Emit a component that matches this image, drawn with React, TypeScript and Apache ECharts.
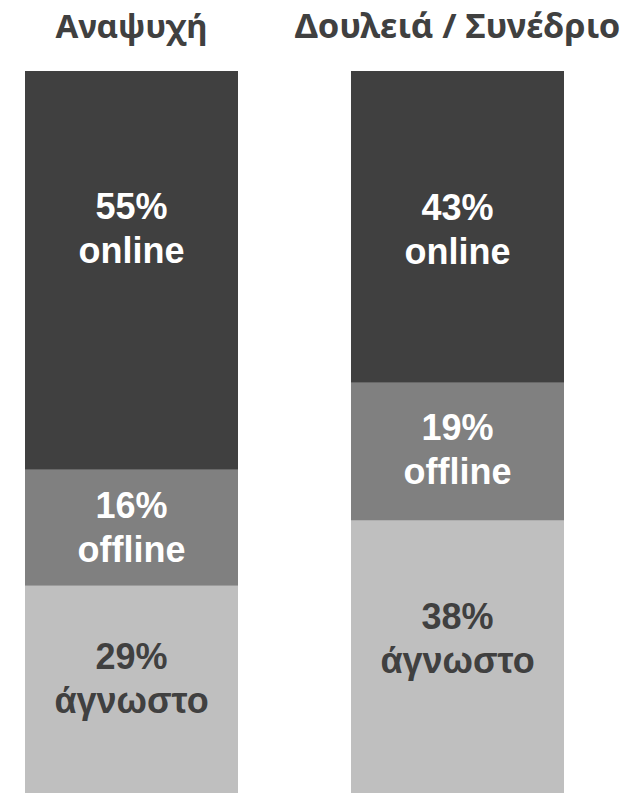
import React, { useEffect, useRef } from "react";
import * as echarts from "echarts";

const categories = ["Αναψυχή", "Δουλειά / Συνέδριο"];
const seriesNames = ["άγνωστο", "offline", "online"];
const unknownValues = [29, 38];
const offlineValues = [16, 19];
const onlineValues = [55, 43];

// layout only
const labelOffsets = [
  [-12, -20],
  [0, -2],
  [-42, 3],
];
const titleSizes = [33, 34.5];
const barColors = ["#bfbfbf", "#808080", "#404040"];
const labelColors = ["#404040", "#ffffff", "#ffffff"];

const FONT = "'Liberation Sans', Arial, Helvetica, sans-serif";
const TITLE_FONT = "'Noto Sans', 'Open Sans', sans-serif";

export default function App() {
  const ref = useRef<HTMLDivElement>(null);
  useEffect(() => {
    if (!ref.current) return;
    const chart = echarts.init(ref.current, null, { renderer: "svg" });
    const valueSets = [unknownValues, offlineValues, onlineValues];
    const series = valueSets.map((vals, si) => ({
      type: "bar",
      name: seriesNames[si],
      stack: "total",
      barWidth: 213,
      itemStyle: { color: barColors[si] },
      label: {
        show: true,
        position: "inside",
        formatter: "{c}%\n{a}",
        color: labelColors[si],
        fontFamily: FONT,
        fontWeight: "bold",
        fontSize: 36,
        lineHeight: 44,
        align: "center",
      },
      emphasis: { disabled: true },
      data: vals.map((v, ci) => ({
        value: v,
        label: { offset: [0, labelOffsets[si][ci]] },
      })),
    }));
    chart.setOption({
      animation: false,
      backgroundColor: "#ffffff",
      grid: {
        left: -31.5,
        top: 71,
        width: 652,
        height: 725,
        outerBoundsMode: "none",
        containLabel: false,
      },
      xAxis: {
        type: "category",
        position: "top",
        data: categories.map((c, i) => ({
          value: c,
          textStyle: { fontSize: titleSizes[i] },
        })),
        axisLine: { show: false },
        axisTick: { show: false },
        axisLabel: {
          interval: 0,
          margin: 29,
          color: "#404040",
          fontFamily: TITLE_FONT,
          fontWeight: "bold",
          fontSize: 33,
        },
      },
      yAxis: {
        type: "value",
        min: 0,
        max: 100,
        show: false,
        splitLine: { show: false },
      },
      series,
    });
    return () => chart.dispose();
  }, []);
  return (
    <div
      style={{
        position: "fixed",
        left: 0,
        top: 0,
        width: 628,
        height: 793,
        overflow: "hidden",
        background: "#fff",
      }}
    >
      <div ref={ref} style={{ width: 628, height: 793 }} />
    </div>
  );
}
